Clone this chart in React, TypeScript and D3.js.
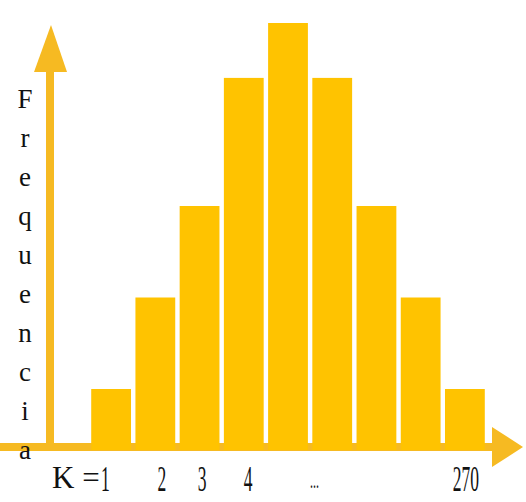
import React, { useRef, useEffect } from 'react';
import * as d3 from 'd3';

// bar heights (relative frequency units)
const categories = ['1', '2', '3', '4', '5', '6', '7', '8', '9'];
const frequencies = [1, 2.5, 4, 6.1, 7, 6.1, 4, 2.5, 1];

// x tick labels and where they sit, in bar-index units
const tickLabels = ['1', '2', '3', '4', '...', '270'];
const tickPositions = [-0.13, 1.15, 2.06, 3.1, 4.6, 8.02];

const yLabel = 'Frequencia'.split('');

const App = () => {
  const svgRef = useRef<SVGSVGElement>(null);
  const width = 526;
  const height = 502;
  const baseY = 450;
  const axisY = 447;
  const axisX = 50;

  useEffect(() => {
    const svg = d3.select(svgRef.current)
      .attr('width', width)
      .attr('height', height);
    svg.selectAll('*').remove();

    const xScale = d3.scaleBand()
      .domain(categories)
      .range([89, 487])
      .paddingInner(0.1)
      .paddingOuter(0.05);

    const yScale = d3.scaleLinear()
      .domain([0, 7])
      .range([baseY, 23]);

    const step = xScale.step();
    const firstCenter = xScale(categories[0])! + xScale.bandwidth() / 2;
    const tickScale = d3.scaleLinear()
      .domain([0, 1])
      .range([firstCenter, firstCenter + step]);

    const axisColor = '#F6BA22';
    const barColor = '#FFC300';

    // horizontal axis with arrow
    svg.append('rect')
      .attr('x', 0)
      .attr('y', axisY - 4)
      .attr('width', 494)
      .attr('height', 8)
      .attr('fill', axisColor);
    svg.append('path')
      .attr('d', `M492,${axisY - 20}L523,${axisY}L492,${axisY + 20}Z`)
      .attr('fill', axisColor);

    // bars
    svg.selectAll('rect.bar')
      .data(frequencies)
      .join('rect')
      .attr('class', 'bar')
      .attr('x', (d, i) => xScale(categories[i])!)
      .attr('y', d => yScale(d))
      .attr('width', xScale.bandwidth())
      .attr('height', d => baseY - yScale(d))
      .attr('fill', barColor);

    // vertical axis with arrow
    svg.append('rect')
      .attr('x', axisX - 4)
      .attr('y', 70)
      .attr('width', 8)
      .attr('height', axisY + 4 - 70)
      .attr('fill', axisColor);
    svg.append('path')
      .attr('d', `M${axisX - 16},72L${axisX + 1},25L${axisX + 17},72Z`)
      .attr('fill', axisColor);

    // vertical label, one letter per line
    svg.append('g')
      .selectAll('text')
      .data(yLabel)
      .join('text')
      .attr('x', 25)
      .attr('y', (d, i) => 108 + i * 39)
      .attr('text-anchor', 'middle')
      .attr('font-family', 'Liberation Serif')
      .attr('font-size', 27)
      .attr('fill', '#111')
      .text(d => d);

    // "K =" prefix
    svg.append('text')
      .attr('x', 52)
      .attr('y', 488)
      .attr('font-family', 'Liberation Serif')
      .attr('font-size', 31)
      .attr('fill', '#111')
      .text('K =');

    // condensed tick labels
    svg.append('g')
      .selectAll('text')
      .data(tickLabels)
      .join('text')
      .attr('transform', (d, i) => `translate(${tickScale(tickPositions[i])},${d === '...' ? 488 : 491}) scale(0.5,1)`)
      .attr('text-anchor', 'middle')
      .attr('font-family', 'Liberation Serif')
      .attr('font-size', d => (d === '...' ? 24 : 35))
      .attr('fill', '#111')
      .text(d => d);
  }, []);

  return (
    <svg
      ref={svgRef}
      style={{ position: 'absolute', left: 0, top: 0, background: '#fff' }}
    ></svg>
  );
};

export default App;
